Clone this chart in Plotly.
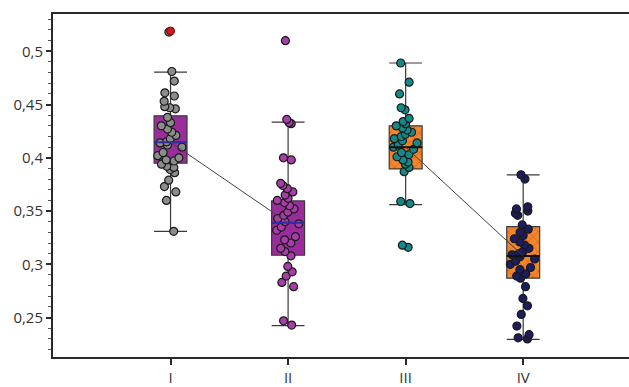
import plotly.graph_objects as go

categories = ["I", "II", "III", "IV"]

values_I = [0.518, 0.481, 0.472, 0.461, 0.458, 0.453, 0.448, 0.446, 0.447, 0.438, 0.433,
            0.430, 0.427, 0.424, 0.421, 0.418, 0.415, 0.414, 0.412, 0.410, 0.405, 0.402,
            0.400, 0.398, 0.397, 0.394, 0.392, 0.391, 0.389, 0.386, 0.379, 0.373, 0.368,
            0.360, 0.331]
values_II = [0.510, 0.436, 0.433, 0.432, 0.400, 0.398, 0.376, 0.374, 0.371, 0.368, 0.365,
             0.362, 0.360, 0.358, 0.355, 0.352, 0.349, 0.346, 0.343, 0.340, 0.338, 0.335,
             0.332, 0.326, 0.323, 0.320, 0.315, 0.312, 0.308, 0.298, 0.293, 0.289, 0.283,
             0.279, 0.247, 0.243]
values_III = [0.489, 0.471, 0.460, 0.447, 0.445, 0.437, 0.434, 0.432, 0.430, 0.428, 0.426,
              0.424, 0.422, 0.420, 0.418, 0.416, 0.414, 0.412, 0.410, 0.408, 0.405, 0.403,
              0.401, 0.398, 0.396, 0.394, 0.391, 0.387, 0.359, 0.357, 0.318, 0.316]
values_IV = [0.384, 0.380, 0.354, 0.352, 0.350, 0.348, 0.346, 0.337, 0.333, 0.330, 0.327,
             0.324, 0.321, 0.318, 0.315, 0.312, 0.310, 0.309, 0.307, 0.305, 0.303, 0.300,
             0.297, 0.295, 0.291, 0.289, 0.287, 0.279, 0.268, 0.261, 0.253, 0.242, 0.234,
             0.231, 0.230]

q1_vals = [0.395, 0.3085, 0.3896, 0.287]
median_vals = [0.4146, 0.339, 0.410, 0.3078]
q3_vals = [0.4394, 0.3595, 0.430, 0.3353]
lower_vals = [0.331, 0.2425, 0.356, 0.2295]
upper_vals = [0.4804, 0.4335, 0.489, 0.384]

highlight_cat = ["I"]
highlight_val = [0.519]

samples = [values_I, values_II, values_III, values_IV]
point_colors = ["#8c8c8c", "#a83ca8", "#14898a", "#1c1c5e"]
box_fills = ["#9b2c9b", "#9b2c9b", "#f0892c", "#f0892c"]
median_colors = ["#2b2fa0", "#2b2fa0", "#111111", "#111111"]
patterned = [False, False, True, True]

BOX_W = 0.28
fig = go.Figure()

# patterned fill for III / IV boxes
for i, cat in enumerate(categories):
    if patterned[i]:
        fig.add_trace(go.Bar(
            x=[cat], y=[q3_vals[i] - q1_vals[i]], base=[q1_vals[i]], width=BOX_W,
            marker=dict(color=box_fills[i], line=dict(width=0),
                        pattern=dict(shape="x", fgcolor="#d8451c", size=7, solidity=0.25)),
            showlegend=False, hoverinfo="skip"))

for i, cat in enumerate(categories):
    fig.add_trace(go.Box(
        x=[cat], y=[samples[i]],
        q1=[q1_vals[i]], median=[median_vals[i]], q3=[q3_vals[i]],
        lowerfence=[lower_vals[i]], upperfence=[upper_vals[i]],
        width=BOX_W, whiskerwidth=1,
        fillcolor="rgba(0,0,0,0)" if patterned[i] else box_fills[i],
        line=dict(color="#3a3a3a", width=1.2),
        boxpoints="all", jitter=0.8, pointpos=0,
        marker=dict(color=point_colors[i], size=8, line=dict(color="#1a1a1a", width=1.2)),
        showlegend=False))
    # median line in its own colour
    fig.add_trace(go.Box(
        x=[cat], q1=[median_vals[i]], median=[median_vals[i]], q3=[median_vals[i]],
        lowerfence=[median_vals[i]], upperfence=[median_vals[i]],
        width=BOX_W, whiskerwidth=0, fillcolor="rgba(0,0,0,0)",
        line=dict(color=median_colors[i], width=2), boxpoints=False,
        showlegend=False, hoverinfo="skip"))

fig.add_trace(go.Scatter(x=[categories[0], categories[1]], y=[median_vals[0], median_vals[1]],
                         mode="lines", line=dict(color="#444444", width=1), showlegend=False))
fig.add_trace(go.Scatter(x=[categories[2], categories[3]], y=[median_vals[2], median_vals[3]],
                         mode="lines", line=dict(color="#444444", width=1), showlegend=False))
fig.add_trace(go.Scatter(x=highlight_cat, y=highlight_val, mode="markers",
                         marker=dict(color="#d01818", size=8, line=dict(color="#601010", width=1)),
                         showlegend=False))

fig.update_layout(
    width=629, height=387,
    margin=dict(l=53, r=0, t=14, b=28),
    paper_bgcolor="white", plot_bgcolor="white",
    separators=", ",
    boxmode="overlay", barmode="overlay",
    font=dict(family="Open Sans, Noto Sans, sans-serif", size=15, color="#333333"),
    xaxis=dict(
        type="category", categoryorder="array", categoryarray=categories,
        range=[-1.0, 3.9], showgrid=False, zeroline=False,
        showline=True, linecolor="#2a2a2a", linewidth=2, mirror=True,
        ticks="outside", ticklen=6, tickcolor="#2a2a2a", tickwidth=1.5,
        tickfont=dict(color="#333333"),
    ),
    yaxis=dict(
        range=[0.213, 0.535], dtick=0.05, tick0=0, showgrid=False, zeroline=False,
        showline=True, linecolor="#2a2a2a", linewidth=2,
        ticks="outside", ticklen=5, tickcolor="#2a2a2a", tickwidth=1.5,
        tickfont=dict(color="#333333"),
        minor=dict(dtick=0.01, ticks="outside", ticklen=3, tickcolor="#555555", tickwidth=1),
    ),
)

fig.write_html(
    "out.html",
    config={"displayModeBar": False},
    post_script="document.body.style.margin='0';document.body.style.overflow='hidden';",
)
